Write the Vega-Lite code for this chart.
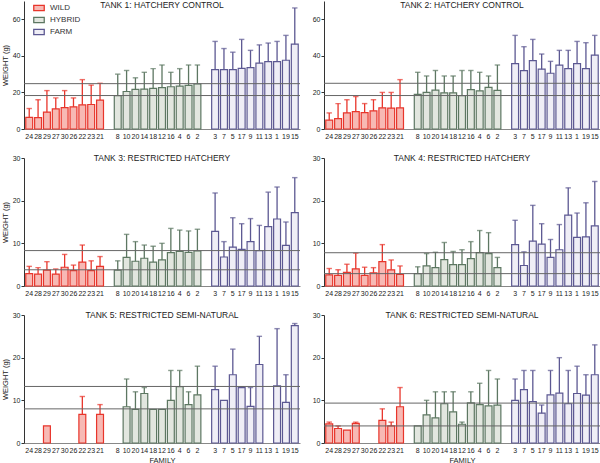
{
"$schema": "https://vega.github.io/schema/vega-lite/v6.json",
"autosize": {"type": "pad"},
"padding": {"left": 1, "top": 0, "right": 2, "bottom": 1},
"background": "white",
"bounds": "flush",
"columns": 2,
"spacing": {"row": 29, "column": 24},
"resolve": {"scale": {"fill": "independent", "stroke": "independent"}, "legend": {"fill": "independent", "stroke": "independent"}},
"datasets": {
"bars": [
{"t":1,"g":"WILD","f":"24","m":6.4,"u":11.2},{"t":1,"g":"WILD","f":"28","m":6.2,"u":16},{"t":1,"g":"WILD","f":"29","m":9.2,"u":21},{"t":1,"g":"WILD","f":"27","m":11,"u":17},{"t":1,"g":"WILD","f":"30","m":11.7,"u":21},{"t":1,"g":"WILD","f":"26","m":12.1,"u":17},{"t":1,"g":"WILD","f":"22","m":13.2,"u":27},{"t":1,"g":"WILD","f":"23","m":13.4,"u":24},{"t":1,"g":"WILD","f":"21","m":15.8,"u":25},
{"t":1,"g":"HYBRID","f":"8","m":18.2,"u":30},{"t":1,"g":"HYBRID","f":"10","m":20.5,"u":32},{"t":1,"g":"HYBRID","f":"20","m":21.7,"u":28},{"t":1,"g":"HYBRID","f":"14","m":21.8,"u":31},{"t":1,"g":"HYBRID","f":"18","m":22.2,"u":33},{"t":1,"g":"HYBRID","f":"12","m":22.6,"u":35},{"t":1,"g":"HYBRID","f":"16","m":23.1,"u":31},{"t":1,"g":"HYBRID","f":"4","m":23.5,"u":33},{"t":1,"g":"HYBRID","f":"6","m":23.9,"u":35},{"t":1,"g":"HYBRID","f":"2","m":24.6,"u":35},
{"t":1,"g":"FARM","f":"3","m":32.5,"u":47.9},{"t":1,"g":"FARM","f":"7","m":32.5,"u":44},{"t":1,"g":"FARM","f":"5","m":32.5,"u":42},{"t":1,"g":"FARM","f":"17","m":33.2,"u":49},{"t":1,"g":"FARM","f":"9","m":33.6,"u":43},{"t":1,"g":"FARM","f":"11","m":36,"u":46},{"t":1,"g":"FARM","f":"13","m":36.9,"u":47},{"t":1,"g":"FARM","f":"1","m":36.9,"u":47.9},{"t":1,"g":"FARM","f":"19","m":37.6,"u":51.2},{"t":1,"g":"FARM","f":"15","m":46.4,"u":66.2},
{"t":2,"g":"WILD","f":"24","m":4.8,"u":8.8},{"t":2,"g":"WILD","f":"28","m":5.7,"u":13.9},{"t":2,"g":"WILD","f":"29","m":8.8,"u":16},{"t":2,"g":"WILD","f":"27","m":9.5,"u":17.8},{"t":2,"g":"WILD","f":"30","m":9.0,"u":13.9},{"t":2,"g":"WILD","f":"26","m":9.9,"u":16},{"t":2,"g":"WILD","f":"22","m":11.6,"u":20},{"t":2,"g":"WILD","f":"23","m":11.4,"u":20},{"t":2,"g":"WILD","f":"21","m":11.6,"u":27},
{"t":2,"g":"HYBRID","f":"8","m":18.9,"u":31},{"t":2,"g":"HYBRID","f":"10","m":20,"u":29},{"t":2,"g":"HYBRID","f":"20","m":21.3,"u":32},{"t":2,"g":"HYBRID","f":"14","m":19.8,"u":29},{"t":2,"g":"HYBRID","f":"18","m":19.8,"u":29},{"t":2,"g":"HYBRID","f":"12","m":18.2,"u":32},{"t":2,"g":"HYBRID","f":"16","m":21.5,"u":32},{"t":2,"g":"HYBRID","f":"4","m":20.9,"u":31},{"t":2,"g":"HYBRID","f":"6","m":22.8,"u":29},{"t":2,"g":"HYBRID","f":"2","m":21.1,"u":35},
{"t":2,"g":"FARM","f":"3","m":35.8,"u":51.2},{"t":2,"g":"FARM","f":"7","m":31.9,"u":45},{"t":2,"g":"FARM","f":"5","m":37.4,"u":49},{"t":2,"g":"FARM","f":"17","m":32.7,"u":41},{"t":2,"g":"FARM","f":"9","m":30.5,"u":37},{"t":2,"g":"FARM","f":"11","m":34.9,"u":43},{"t":2,"g":"FARM","f":"13","m":33,"u":43},{"t":2,"g":"FARM","f":"1","m":35.8,"u":47.9},{"t":2,"g":"FARM","f":"19","m":33,"u":47.2},{"t":2,"g":"FARM","f":"15","m":40.4,"u":51.2},
{"t":3,"g":"WILD","f":"24","m":2.9,"u":4.6},{"t":3,"g":"WILD","f":"28","m":2.8,"u":4.3},{"t":3,"g":"WILD","f":"29","m":3.7,"u":5.7},{"t":3,"g":"WILD","f":"27","m":2.8,"u":4.0},{"t":3,"g":"WILD","f":"30","m":4.4,"u":7.4},{"t":3,"g":"WILD","f":"26","m":3.6,"u":4.9},{"t":3,"g":"WILD","f":"22","m":5.6,"u":9.6},{"t":3,"g":"WILD","f":"23","m":3.6,"u":5.9},{"t":3,"g":"WILD","f":"21","m":4.6,"u":6.9},
{"t":3,"g":"HYBRID","f":"8","m":3.7,"u":5.9},{"t":3,"g":"HYBRID","f":"10","m":6.7,"u":12.1},{"t":3,"g":"HYBRID","f":"20","m":5.8,"u":10.4},{"t":3,"g":"HYBRID","f":"14","m":6.5,"u":9.6},{"t":3,"g":"HYBRID","f":"18","m":5.6,"u":9.3},{"t":3,"g":"HYBRID","f":"12","m":6.1,"u":10},{"t":3,"g":"HYBRID","f":"16","m":7.8,"u":13.5},{"t":3,"g":"HYBRID","f":"4","m":8.1,"u":13.1},{"t":3,"g":"HYBRID","f":"6","m":7.9,"u":12.9},{"t":3,"g":"HYBRID","f":"2","m":8.2,"u":13.3},
{"t":3,"g":"FARM","f":"3","m":12.8,"u":21.8},{"t":3,"g":"FARM","f":"7","m":6.8,"u":10.4},{"t":3,"g":"FARM","f":"5","m":9.1,"u":16},{"t":3,"g":"FARM","f":"17","m":8.6,"u":14.6},{"t":3,"g":"FARM","f":"9","m":10.4,"u":15.8},{"t":3,"g":"FARM","f":"11","m":8.3,"u":14.2},{"t":3,"g":"FARM","f":"13","m":13.9,"u":22},{"t":3,"g":"FARM","f":"1","m":15.7,"u":23.2},{"t":3,"g":"FARM","f":"19","m":9.5,"u":15},{"t":3,"g":"FARM","f":"15","m":17.2,"u":25.4},
{"t":4,"g":"WILD","f":"24","m":2.6,"u":4.1},{"t":4,"g":"WILD","f":"28","m":2.5,"u":3.8},{"t":4,"g":"WILD","f":"29","m":3.2,"u":5.1},{"t":4,"g":"WILD","f":"27","m":4.0,"u":7.7},{"t":4,"g":"WILD","f":"30","m":2.5,"u":4.4},{"t":4,"g":"WILD","f":"26","m":3.1,"u":4.3},{"t":4,"g":"WILD","f":"22","m":5.7,"u":9.7},{"t":4,"g":"WILD","f":"23","m":3.8,"u":6.1},{"t":4,"g":"WILD","f":"21","m":2.7,"u":4.7},
{"t":4,"g":"HYBRID","f":"8","m":2.9,"u":4.5},{"t":4,"g":"HYBRID","f":"10","m":4.7,"u":7.6},{"t":4,"g":"HYBRID","f":"20","m":4.3,"u":7.9},{"t":4,"g":"HYBRID","f":"14","m":6.2,"u":10.2},{"t":4,"g":"HYBRID","f":"18","m":5.0,"u":8.1},{"t":4,"g":"HYBRID","f":"12","m":5.0,"u":8.5},{"t":4,"g":"HYBRID","f":"16","m":6.4,"u":10.4},{"t":4,"g":"HYBRID","f":"4","m":7.8,"u":13},{"t":4,"g":"HYBRID","f":"6","m":7.6,"u":12.5},{"t":4,"g":"HYBRID","f":"2","m":4.3,"u":6.7},
{"t":4,"g":"FARM","f":"3","m":9.7,"u":15.4},{"t":4,"g":"FARM","f":"7","m":4.8,"u":8},{"t":4,"g":"FARM","f":"5","m":10.5,"u":18.9},{"t":4,"g":"FARM","f":"17","m":9.8,"u":14.6},{"t":4,"g":"FARM","f":"9","m":6.7,"u":10.9},{"t":4,"g":"FARM","f":"11","m":8.5,"u":14.4},{"t":4,"g":"FARM","f":"13","m":16.6,"u":23},{"t":4,"g":"FARM","f":"1","m":11.4,"u":17.1},{"t":4,"g":"FARM","f":"19","m":11.5,"u":19.5},{"t":4,"g":"FARM","f":"15","m":14.1,"u":24.5},
{"t":5,"g":"WILD","f":"29","m":4.0,"u":null},{"t":5,"g":"WILD","f":"22","m":6.7,"u":10.9},{"t":5,"g":"WILD","f":"21","m":6.7,"u":9.0},
{"t":5,"g":"HYBRID","f":"10","m":8.5,"u":15},{"t":5,"g":"HYBRID","f":"20","m":7.9,"u":12},{"t":5,"g":"HYBRID","f":"14","m":11.6,"u":13},{"t":5,"g":"HYBRID","f":"18","m":7.9,"u":null},{"t":5,"g":"HYBRID","f":"12","m":7.9,"u":null},{"t":5,"g":"HYBRID","f":"16","m":10,"u":17},{"t":5,"g":"HYBRID","f":"4","m":13.2,"u":17},{"t":5,"g":"HYBRID","f":"6","m":9,"u":12},{"t":5,"g":"HYBRID","f":"2","m":11.3,"u":18},
{"t":5,"g":"FARM","f":"3","m":12.5,"u":18},{"t":5,"g":"FARM","f":"7","m":10,"u":null},{"t":5,"g":"FARM","f":"5","m":16,"u":22},{"t":5,"g":"FARM","f":"17","m":13,"u":13.2},{"t":5,"g":"FARM","f":"9","m":8.6,"u":13},{"t":5,"g":"FARM","f":"11","m":18.4,"u":25},{"t":5,"g":"FARM","f":"1","m":13.4,"u":26.8},{"t":5,"g":"FARM","f":"19","m":9.5,"u":16},{"t":5,"g":"FARM","f":"15","m":27.5,"u":28},
{"t":6,"g":"WILD","f":"24","m":4.5,"u":4.9},{"t":6,"g":"WILD","f":"28","m":3.4,"u":4.0},{"t":6,"g":"WILD","f":"29","m":3.0,"u":null},{"t":6,"g":"WILD","f":"27","m":4.6,"u":4.9},{"t":6,"g":"WILD","f":"22","m":5.3,"u":8},{"t":6,"g":"WILD","f":"23","m":4.0,"u":4.9},{"t":6,"g":"WILD","f":"21","m":8.5,"u":13},
{"t":6,"g":"HYBRID","f":"8","m":4.0,"u":null},{"t":6,"g":"HYBRID","f":"10","m":6.6,"u":10},{"t":6,"g":"HYBRID","f":"20","m":5.9,"u":12},{"t":6,"g":"HYBRID","f":"14","m":9.2,"u":12},{"t":6,"g":"HYBRID","f":"18","m":7.3,"u":12},{"t":6,"g":"HYBRID","f":"12","m":4.4,"u":4.9},{"t":6,"g":"HYBRID","f":"16","m":9.4,"u":12},{"t":6,"g":"HYBRID","f":"4","m":9.0,"u":14},{"t":6,"g":"HYBRID","f":"6","m":8.7,"u":17},{"t":6,"g":"HYBRID","f":"2","m":8.9,"u":15},
{"t":6,"g":"FARM","f":"3","m":10,"u":15},{"t":6,"g":"FARM","f":"7","m":12.5,"u":17},{"t":6,"g":"FARM","f":"5","m":9.7,"u":17},{"t":6,"g":"FARM","f":"17","m":7.0,"u":8.9},{"t":6,"g":"FARM","f":"9","m":11.3,"u":17},{"t":6,"g":"FARM","f":"11","m":11.7,"u":20},{"t":6,"g":"FARM","f":"13","m":9.2,"u":17},{"t":6,"g":"FARM","f":"1","m":11.6,"u":18},{"t":6,"g":"FARM","f":"19","m":11.2,"u":16},{"t":6,"g":"FARM","f":"15","m":16,"u":23}
],
"lines": [
{"t":1,"v":24.8},{"t":1,"v":18.3},{"t":2,"v":25},{"t":2,"v":18.3},{"t":3,"v":8.3},{"t":3,"v":3.8},{"t":4,"v":7.8},{"t":4,"v":2.9},{"t":5,"v":13.25},{"t":5,"v":8.0},{"t":6,"v":9.35},{"t":6,"v":4.0}
]
},
"concat": [
{"width": 276, "height": 128, "title": "TANK 1: HATCHERY CONTROL",
"layer": [
{"data": {"name": "bars"}, "transform": [{"filter": "datum.t == 1"}], "mark": {"type": "bar", "strokeWidth": 1.2},
"encoding": {
"x": {"field": "f", "type": "nominal", "title": null, "scale": {"domain": ["24","28","29","27","30","26","22","23","21","_a","8","10","20","14","18","12","16","4","6","2","_b","3","7","5","17","9","11","13","1","19","15"], "paddingInner": 0.22, "paddingOuter": 0.2}, "axis": {"labelExpr": "indexof(datum.value, '_') >= 0 ? '' : datum.value"}},
"y": {"field": "m", "type": "quantitative", "title": "WEIGHT (g)", "scale": {"domain": [0, 70], "nice": false}, "axis": {"values": [0, 20, 40, 60]}},
"fill": {"field": "g", "type": "nominal", "title": null, "scale": {"domain": ["WILD","HYBRID","FARM"], "range": ["#f7b9b4","#e2e6df","#efeef6"]}},
"stroke": {"field": "g", "type": "nominal", "title": null, "scale": {"domain": ["WILD","HYBRID","FARM"], "range": ["#e8352b","#5d7762","#5c5892"]}}
}},
{"data": {"name": "bars"}, "transform": [{"filter": "datum.t == 1 && isValid(datum.u)"}], "mark": {"type": "rule", "strokeWidth": 1.3},
"encoding": {"x": {"field": "f", "type": "nominal"}, "y": {"field": "m", "type": "quantitative"}, "y2": {"field": "u"}, "stroke": {"field": "g", "type": "nominal", "title": null}}},
{"data": {"name": "bars"}, "transform": [{"filter": "datum.t == 1 && isValid(datum.u)"}], "mark": {"type": "tick", "filled": false, "thickness": 0.01, "size": 4, "strokeWidth": 1.4},
"encoding": {"x": {"field": "f", "type": "nominal"}, "y": {"field": "u", "type": "quantitative"}, "stroke": {"field": "g", "type": "nominal", "title": null}}},
{"data": {"name": "lines"}, "transform": [{"filter": "datum.t == 1"}], "mark": {"type": "rule", "color": "#666", "strokeWidth": 1},
"encoding": {"y": {"field": "v", "type": "quantitative"}}}
]},
{"width": 276, "height": 128, "title": "TANK 2: HATCHERY CONTROL",
"layer": [
{"data": {"name": "bars"}, "transform": [{"filter": "datum.t == 2"}], "mark": {"type": "bar", "strokeWidth": 1.2},
"encoding": {
"x": {"field": "f", "type": "nominal", "title": null, "scale": {"domain": ["24","28","29","27","30","26","22","23","21","_a","8","10","20","14","18","12","16","4","6","2","_b","3","7","5","17","9","11","13","1","19","15"], "paddingInner": 0.22, "paddingOuter": 0.2}, "axis": {"labelExpr": "indexof(datum.value, '_') >= 0 ? '' : datum.value"}},
"y": {"field": "m", "type": "quantitative", "title": null, "scale": {"domain": [0, 70], "nice": false}, "axis": {"values": [0, 20, 40, 60]}},
"fill": {"field": "g", "type": "nominal", "legend": null, "scale": {"domain": ["WILD","HYBRID","FARM"], "range": ["#f7b9b4","#e2e6df","#efeef6"]}},
"stroke": {"field": "g", "type": "nominal", "legend": null, "scale": {"domain": ["WILD","HYBRID","FARM"], "range": ["#e8352b","#5d7762","#5c5892"]}}
}},
{"data": {"name": "bars"}, "transform": [{"filter": "datum.t == 2 && isValid(datum.u)"}], "mark": {"type": "rule", "strokeWidth": 1.3},
"encoding": {"x": {"field": "f", "type": "nominal"}, "y": {"field": "m", "type": "quantitative"}, "y2": {"field": "u"}, "stroke": {"field": "g", "type": "nominal", "legend": null}}},
{"data": {"name": "bars"}, "transform": [{"filter": "datum.t == 2 && isValid(datum.u)"}], "mark": {"type": "tick", "filled": false, "thickness": 0.01, "size": 4, "strokeWidth": 1.4},
"encoding": {"x": {"field": "f", "type": "nominal"}, "y": {"field": "u", "type": "quantitative"}, "stroke": {"field": "g", "type": "nominal", "legend": null}}},
{"data": {"name": "lines"}, "transform": [{"filter": "datum.t == 2"}], "mark": {"type": "rule", "color": "#666", "strokeWidth": 1},
"encoding": {"y": {"field": "v", "type": "quantitative"}}}
]},
{"width": 276, "height": 128, "title": "TANK 3: RESTRICTED HATCHERY",
"layer": [
{"data": {"name": "bars"}, "transform": [{"filter": "datum.t == 3"}], "mark": {"type": "bar", "strokeWidth": 1.2},
"encoding": {
"x": {"field": "f", "type": "nominal", "title": null, "scale": {"domain": ["24","28","29","27","30","26","22","23","21","_a","8","10","20","14","18","12","16","4","6","2","_b","3","7","5","17","9","11","13","1","19","15"], "paddingInner": 0.22, "paddingOuter": 0.2}, "axis": {"labelExpr": "indexof(datum.value, '_') >= 0 ? '' : datum.value"}},
"y": {"field": "m", "type": "quantitative", "title": "WEIGHT (g)", "scale": {"domain": [0, 30], "nice": false}, "axis": {"values": [0, 10, 20, 30]}},
"fill": {"field": "g", "type": "nominal", "legend": null, "scale": {"domain": ["WILD","HYBRID","FARM"], "range": ["#f7b9b4","#e2e6df","#efeef6"]}},
"stroke": {"field": "g", "type": "nominal", "legend": null, "scale": {"domain": ["WILD","HYBRID","FARM"], "range": ["#e8352b","#5d7762","#5c5892"]}}
}},
{"data": {"name": "bars"}, "transform": [{"filter": "datum.t == 3 && isValid(datum.u)"}], "mark": {"type": "rule", "strokeWidth": 1.3},
"encoding": {"x": {"field": "f", "type": "nominal"}, "y": {"field": "m", "type": "quantitative"}, "y2": {"field": "u"}, "stroke": {"field": "g", "type": "nominal", "legend": null}}},
{"data": {"name": "bars"}, "transform": [{"filter": "datum.t == 3 && isValid(datum.u)"}], "mark": {"type": "tick", "filled": false, "thickness": 0.01, "size": 4, "strokeWidth": 1.4},
"encoding": {"x": {"field": "f", "type": "nominal"}, "y": {"field": "u", "type": "quantitative"}, "stroke": {"field": "g", "type": "nominal", "legend": null}}},
{"data": {"name": "lines"}, "transform": [{"filter": "datum.t == 3"}], "mark": {"type": "rule", "color": "#666", "strokeWidth": 1},
"encoding": {"y": {"field": "v", "type": "quantitative"}}}
]},
{"width": 276, "height": 128, "title": "TANK 4: RESTRICTED HATCHERY",
"layer": [
{"data": {"name": "bars"}, "transform": [{"filter": "datum.t == 4"}], "mark": {"type": "bar", "strokeWidth": 1.2},
"encoding": {
"x": {"field": "f", "type": "nominal", "title": null, "scale": {"domain": ["24","28","29","27","30","26","22","23","21","_a","8","10","20","14","18","12","16","4","6","2","_b","3","7","5","17","9","11","13","1","19","15"], "paddingInner": 0.22, "paddingOuter": 0.2}, "axis": {"labelExpr": "indexof(datum.value, '_') >= 0 ? '' : datum.value"}},
"y": {"field": "m", "type": "quantitative", "title": null, "scale": {"domain": [0, 30], "nice": false}, "axis": {"values": [0, 10, 20, 30]}},
"fill": {"field": "g", "type": "nominal", "legend": null, "scale": {"domain": ["WILD","HYBRID","FARM"], "range": ["#f7b9b4","#e2e6df","#efeef6"]}},
"stroke": {"field": "g", "type": "nominal", "legend": null, "scale": {"domain": ["WILD","HYBRID","FARM"], "range": ["#e8352b","#5d7762","#5c5892"]}}
}},
{"data": {"name": "bars"}, "transform": [{"filter": "datum.t == 4 && isValid(datum.u)"}], "mark": {"type": "rule", "strokeWidth": 1.3},
"encoding": {"x": {"field": "f", "type": "nominal"}, "y": {"field": "m", "type": "quantitative"}, "y2": {"field": "u"}, "stroke": {"field": "g", "type": "nominal", "legend": null}}},
{"data": {"name": "bars"}, "transform": [{"filter": "datum.t == 4 && isValid(datum.u)"}], "mark": {"type": "tick", "filled": false, "thickness": 0.01, "size": 4, "strokeWidth": 1.4},
"encoding": {"x": {"field": "f", "type": "nominal"}, "y": {"field": "u", "type": "quantitative"}, "stroke": {"field": "g", "type": "nominal", "legend": null}}},
{"data": {"name": "lines"}, "transform": [{"filter": "datum.t == 4"}], "mark": {"type": "rule", "color": "#666", "strokeWidth": 1},
"encoding": {"y": {"field": "v", "type": "quantitative"}}}
]},
{"width": 276, "height": 128, "title": "TANK 5: RESTRICTED SEMI-NATURAL",
"layer": [
{"data": {"name": "bars"}, "transform": [{"filter": "datum.t == 5"}], "mark": {"type": "bar", "strokeWidth": 1.2},
"encoding": {
"x": {"field": "f", "type": "nominal", "title": "FAMILY", "scale": {"domain": ["24","28","29","27","30","26","22","23","21","_a","8","10","20","14","18","12","16","4","6","2","_b","3","7","5","17","9","11","13","1","19","15"], "paddingInner": 0.22, "paddingOuter": 0.2}, "axis": {"labelExpr": "indexof(datum.value, '_') >= 0 ? '' : datum.value"}},
"y": {"field": "m", "type": "quantitative", "title": "WEIGHT (g)", "scale": {"domain": [0, 30], "nice": false}, "axis": {"values": [0, 10, 20, 30]}},
"fill": {"field": "g", "type": "nominal", "legend": null, "scale": {"domain": ["WILD","HYBRID","FARM"], "range": ["#f7b9b4","#e2e6df","#efeef6"]}},
"stroke": {"field": "g", "type": "nominal", "legend": null, "scale": {"domain": ["WILD","HYBRID","FARM"], "range": ["#e8352b","#5d7762","#5c5892"]}}
}},
{"data": {"name": "bars"}, "transform": [{"filter": "datum.t == 5 && isValid(datum.u)"}], "mark": {"type": "rule", "strokeWidth": 1.3},
"encoding": {"x": {"field": "f", "type": "nominal"}, "y": {"field": "m", "type": "quantitative"}, "y2": {"field": "u"}, "stroke": {"field": "g", "type": "nominal", "legend": null}}},
{"data": {"name": "bars"}, "transform": [{"filter": "datum.t == 5 && isValid(datum.u)"}], "mark": {"type": "tick", "filled": false, "thickness": 0.01, "size": 4, "strokeWidth": 1.4},
"encoding": {"x": {"field": "f", "type": "nominal"}, "y": {"field": "u", "type": "quantitative"}, "stroke": {"field": "g", "type": "nominal", "legend": null}}},
{"data": {"name": "lines"}, "transform": [{"filter": "datum.t == 5"}], "mark": {"type": "rule", "color": "#666", "strokeWidth": 1},
"encoding": {"y": {"field": "v", "type": "quantitative"}}}
]},
{"width": 276, "height": 128, "title": "TANK 6: RESTRICTED SEMI-NATURAL",
"layer": [
{"data": {"name": "bars"}, "transform": [{"filter": "datum.t == 6"}], "mark": {"type": "bar", "strokeWidth": 1.2},
"encoding": {
"x": {"field": "f", "type": "nominal", "title": "FAMILY", "scale": {"domain": ["24","28","29","27","30","26","22","23","21","_a","8","10","20","14","18","12","16","4","6","2","_b","3","7","5","17","9","11","13","1","19","15"], "paddingInner": 0.22, "paddingOuter": 0.2}, "axis": {"labelExpr": "indexof(datum.value, '_') >= 0 ? '' : datum.value"}},
"y": {"field": "m", "type": "quantitative", "title": null, "scale": {"domain": [0, 30], "nice": false}, "axis": {"values": [0, 10, 20, 30]}},
"fill": {"field": "g", "type": "nominal", "legend": null, "scale": {"domain": ["WILD","HYBRID","FARM"], "range": ["#f7b9b4","#e2e6df","#efeef6"]}},
"stroke": {"field": "g", "type": "nominal", "legend": null, "scale": {"domain": ["WILD","HYBRID","FARM"], "range": ["#e8352b","#5d7762","#5c5892"]}}
}},
{"data": {"name": "bars"}, "transform": [{"filter": "datum.t == 6 && isValid(datum.u)"}], "mark": {"type": "rule", "strokeWidth": 1.3},
"encoding": {"x": {"field": "f", "type": "nominal"}, "y": {"field": "m", "type": "quantitative"}, "y2": {"field": "u"}, "stroke": {"field": "g", "type": "nominal", "legend": null}}},
{"data": {"name": "bars"}, "transform": [{"filter": "datum.t == 6 && isValid(datum.u)"}], "mark": {"type": "tick", "filled": false, "thickness": 0.01, "size": 4, "strokeWidth": 1.4},
"encoding": {"x": {"field": "f", "type": "nominal"}, "y": {"field": "u", "type": "quantitative"}, "stroke": {"field": "g", "type": "nominal", "legend": null}}},
{"data": {"name": "lines"}, "transform": [{"filter": "datum.t == 6"}], "mark": {"type": "rule", "color": "#666", "strokeWidth": 1},
"encoding": {"y": {"field": "v", "type": "quantitative"}}}
]}
],
"config": {
"font": "Liberation Sans",
"view": {"stroke": null},
"title": {"fontSize": 8.5, "fontWeight": "normal", "color": "#222", "baseline": "top", "offset": -8, "frame": "group", "anchor": "middle"},
"axis": {"labelFontSize": 7, "labelColor": "#222", "domainColor": "#333", "tickColor": "#333", "tickSize": 3, "titleFontSize": 7.5, "titleFontWeight": "normal", "titleColor": "#222", "grid": false},
"axisX": {"ticks": false, "domainColor": "#888", "labelPadding": 3, "titlePadding": 3, "labelAngle": 0, "labelOverlap": false},
"axisY": {"titlePadding": 3, "labelPadding": 1},
"legend": {"orient": "none", "legendX": 9, "legendY": 1, "symbolType": "M-1,-0.5H1V0.5H-1Z", "symbolSize": 110, "labelFontSize": 8, "labelColor": "#333", "rowPadding": 0, "symbolStrokeWidth": 1.3, "labelOffset": 5}
}
}
